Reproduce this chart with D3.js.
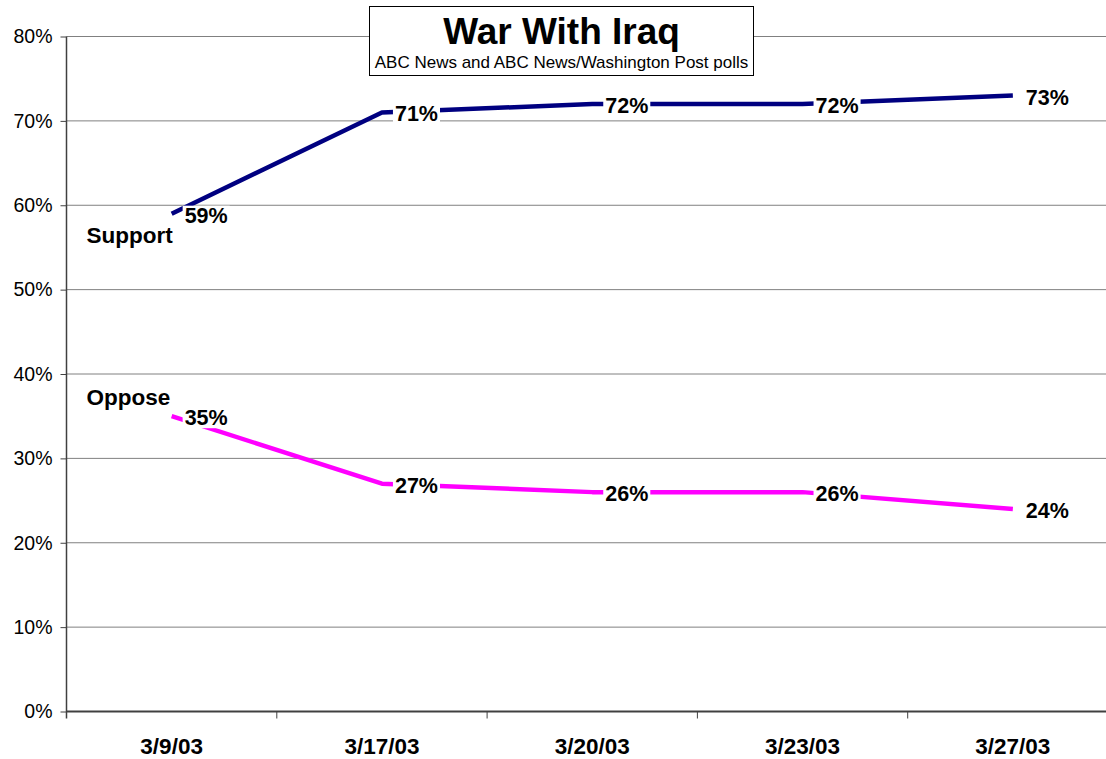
<!DOCTYPE html>
<html>
<head>
<meta charset="utf-8">
<script src="https://cdn.jsdelivr.net/npm/d3@7"></script>
<style>
  body { margin: 0; background: #fff; }
  text { font-family: Arial, "Liberation Sans", sans-serif; }
</style>
</head>
<body>
<script>
'use strict';

var dates = ['3/9/03', '3/17/03', '3/20/03', '3/23/03', '3/27/03'];
var support = [59, 71, 72, 72, 73];
var oppose = [35, 27, 26, 26, 24];
var yTicks = [0, 10, 20, 30, 40, 50, 60, 70, 80];

var width = 1106, height = 759,
  plotL = 66.5, plotR = 1118, plotT = 36.5, plotB = 711.5;

var svg = d3.select('body').append('svg')
  .attr('width', width)
  .attr('height', height);

var x = d3.scaleBand().domain(dates).range([plotL, plotR]).padding(0);
var y = d3.scaleLinear().domain([0, 80]).range([plotB, plotT]);

// gridlines
svg.append('g').selectAll('line').data(yTicks.slice(1)).enter().append('line')
  .attr('x1', plotL).attr('x2', plotR)
  .attr('y1', function(d){ return y(d); })
  .attr('y2', function(d){ return y(d); })
  .attr('stroke', '#808080').attr('stroke-width', 1);

// y axis
var yAxis = svg.append('g')
  .attr('transform', 'translate(' + plotL + ',0)')
  .call(d3.axisLeft(y).tickValues(yTicks).tickSize(6).tickPadding(8)
    .tickFormat(function(d){ return d + '%'; }));
yAxis.select('.domain').attr('stroke', '#404040').attr('stroke-width', 1.5)
  .attr('d', 'M0,' + plotT + 'V' + (plotB + 7));
yAxis.selectAll('.tick line').attr('stroke', '#404040');
yAxis.selectAll('text').attr('font-size', 19.5).attr('fill', '#000')
  .attr('font-family', 'Arial, "Liberation Sans", sans-serif');

// x axis
var xAxis = svg.append('g').attr('transform', 'translate(0,' + plotB + ')');
xAxis.append('line').attr('x1', plotL).attr('x2', plotR)
  .attr('stroke', '#404040').attr('stroke-width', 2);
xAxis.selectAll('.xt').data(dates.slice(1)).enter().append('line')
  .attr('x1', function(d){ return x(d); })
  .attr('x2', function(d){ return x(d); })
  .attr('y1', 0).attr('y2', 7)
  .attr('stroke', '#404040');
xAxis.selectAll('text').data(dates).enter().append('text')
  .attr('x', function(d){ return x(d) + x.bandwidth() / 2; })
  .attr('y', 42)
  .attr('text-anchor', 'middle')
  .attr('font-size', 22.5).attr('font-weight', 'bold')
  .text(function(d){ return d; });

// lines
var line = d3.line()
  .x(function(d, i){ return x(dates[i]) + x.bandwidth() / 2; })
  .y(function(d){ return y(d); });

function drawSeries(vals, color) {
  svg.append('path').datum(vals)
    .attr('d', line)
    .attr('fill', 'none')
    .attr('stroke', color)
    .attr('stroke-width', 4.5)
    .attr('stroke-linejoin', 'round');

  var g = svg.append('g');
  vals.forEach(function(v, i){
    var lg = g.append('g');
    var t = lg.append('text')
      .attr('x', x(dates[i]) + x.bandwidth() / 2 + 13)
      .attr('y', y(v) + 9)
      .attr('font-size', 21.5).attr('font-weight', 'bold')
      .text(v + '%');
    var b = t.node().getBBox();
    lg.insert('rect', 'text')
      .attr('x', b.x - 2).attr('y', b.y + 2)
      .attr('width', b.width + 4).attr('height', b.height - 4)
      .attr('fill', '#fff');
  });
}

drawSeries(support, '#000080');
drawSeries(oppose, '#FF00FF');

// series names
svg.append('text')
  .attr('x', plotL + 20).attr('y', y(support[0]) + 29)
  .attr('font-size', 22.5).attr('font-weight', 'bold')
  .text('Support');
svg.append('text')
  .attr('x', plotL + 20).attr('y', y(oppose[0]) - 11)
  .attr('font-size', 22.5).attr('font-weight', 'bold')
  .text('Oppose');

// title box
var tg = svg.append('g');
tg.append('rect')
  .attr('x', 369.5).attr('y', 6.5).attr('width', 384).attr('height', 69)
  .attr('fill', '#fff').attr('stroke', '#000').attr('stroke-width', 1);
tg.append('text')
  .attr('x', 561.5).attr('y', 44)
  .attr('text-anchor', 'middle')
  .attr('font-size', 37).attr('font-weight', 'bold')
  .text('War With Iraq');
tg.append('text')
  .attr('x', 561.5).attr('y', 68)
  .attr('text-anchor', 'middle')
  .attr('font-size', 17)
  .text('ABC News and ABC News/Washington Post polls');
</script>
</body>
</html>
